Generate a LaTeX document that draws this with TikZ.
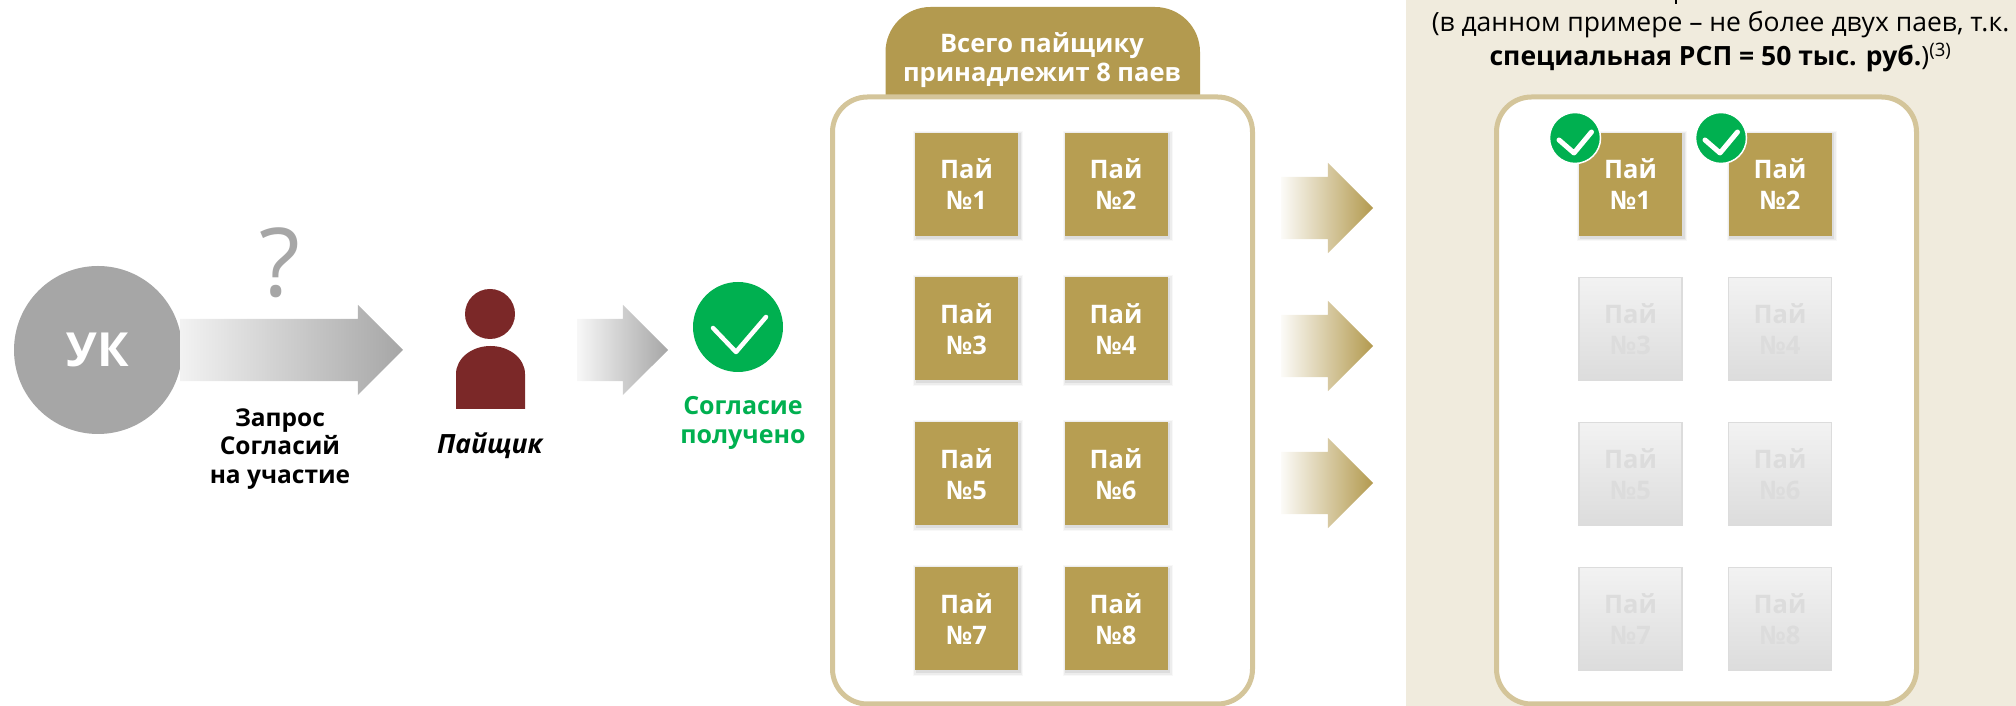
\documentclass[tikz,border=0pt]{standalone}
\usepackage{fontspec}
\setmainfont{Open Sans}
\usetikzlibrary{shapes.arrows,shadows}

\definecolor{gold}{HTML}{B79E52}
\definecolor{goldtab}{HTML}{B39A4F}
\definecolor{goldline}{HTML}{D4C59A}
\definecolor{panel}{HTML}{F0EBDD}
\definecolor{okgreen}{HTML}{00B050}
\definecolor{person}{HTML}{7B2828}
\definecolor{midgrey}{HTML}{A6A6A6}
\definecolor{offgrey}{HTML}{DCDCDC}

\begin{document}
\begin{tikzpicture}[x=1pt,y=1pt,
    blockarrow/.style={single arrow, anchor=tail, inner sep=0pt, outer sep=0pt,
        text height=62pt, text depth=0pt, text width=0pt,
        single arrow head extend=14pt, single arrow tip angle=90,
        single arrow head indent=0pt},
    greyarrow/.style={blockarrow, left color=#1, right color=midgrey},
    goldarrow/.style={blockarrow, left color=white!96!goldtab, right color=goldtab},
    frame/.style={draw=goldline, line width=5pt, fill=white, rounded corners=35pt,
        minimum width=420pt, minimum height=607pt},
    paybox/.style={minimum width=103pt, minimum height=103pt, inner sep=0pt,
        align=center, font=\fontsize{25.5}{31}\selectfont\bfseries},
    payon/.style={paybox, fill=gold, text=white,
        drop shadow={shadow xshift=1.5pt, shadow yshift=-1.5pt, opacity=.05, shadow scale=1.07},
        drop shadow={shadow xshift=1.5pt, shadow yshift=-1.5pt, opacity=.09, shadow scale=1.05},
        drop shadow={shadow xshift=1.5pt, shadow yshift=-1.5pt, opacity=.14, shadow scale=1.02}},
    payoff/.style={paybox, draw=offgrey, line width=1.5pt, text=offgrey,
        top color=black!5, middle color=black!6, bottom color=offgrey},
    okmark/.style={white, line cap=round, line join=round},
    caption/.style={align=center, font=\fontsize{24.5}{28.5}\selectfont\bfseries}]

    \useasboundingbox (0,0) rectangle (2016,706);

    % правая панель
    \fill[panel] (1406,0) rectangle (2016,706);
    \draw[line width=2pt] (1676,706) -- (1676,702);
    \node[align=center, font=\fontsize{26.5}{34}\selectfont] (note) at (1720.5,664.5)
        {(в данном примере – не более двух паев, т.к.\\
        \textbf{специальная РСП = 50 тыс. руб.})\textsuperscript{(3)}};

    % УК и запрос
    \node[circle, fill=midgrey, minimum size=168pt, inner sep=0pt, text=white,
        font=\fontsize{47}{47}\selectfont\bfseries] (uk) at (98,356) {УК};
    \node[greyarrow=black!5, minimum height=223pt] (askarrow) at (180,356) {};
    \node[text=midgrey, font=\fontsize{95}{95}\selectfont] (ask) at (280,443) {?};
    \node[caption] (asktext) at (280,257) {Запрос\\Согласий\\на участие};

    % пайщик
    \node[circle, fill=person, minimum size=50pt, inner sep=0pt] (head) at (490,392) {};
    \fill[person] (456,297) -- (456,332) arc[start angle=180, end angle=0,
        x radius=34.5, y radius=28] -- (525,297) -- cycle;
    \node[font=\fontsize{26.5}{29}\selectfont\bfseries\itshape] (holder) at (490,260) {Пайщик};

    % согласие
    \node[greyarrow=black!3, minimum height=91pt] (okarrow) at (577,356) {};
    \node[circle, fill=okgreen, minimum size=90pt, inner sep=0pt] (ok) at (738,379) {};
    \draw[okmark, line width=4.5pt] (ok.center) ++(-25,-1) -- ++(23,-24) -- ++(30,35);
    \node[caption, text=okgreen, font=\fontsize{25}{29}\selectfont\bfseries] (oktext) at (743,283) {Согласие\\получено};

    % вкладка и рамка слева
    \fill[goldtab] (885.5,611) -- (885.5,654) arc[start angle=180, end angle=90, radius=45]
        -- (1155,699) arc[start angle=90, end angle=0, radius=45] -- (1200,611) -- cycle;
    \node[text=white, align=center, font=\fontsize{25.5}{29.5}\selectfont\bfseries] (tab) at (1042,646)
        {Всего пайщику\\принадлежит 8 паев};
    \node[frame] (left) at (1042.5,305.5) {};

    % паи слева
    \foreach \n/\x/\y in {1/966.5/521.5, 2/1116/521.5, 3/966.5/377, 4/1116/377,
                          5/966.5/232, 6/1116/232, 7/966.5/87, 8/1116/87}
        \node[payon] (pay\n) at (\x,\y) {Пай\\№\n};

    % стрелки
    \foreach \n/\y in {1/498, 2/360, 3/223}
        \node[goldarrow, minimum height=92pt] (goldarrow\n) at (1281,\y) {};

    % рамка справа
    \node[frame] (right) at (1706.5,305.5) {};

    % паи справа
    \foreach \n/\x/\y in {1/1630.5/521.5, 2/1780/521.5}
        \node[payon] (rpay\n) at (\x,\y) {Пай\\№\n};
    \foreach \n/\x/\y in {3/1630.5/377, 4/1780/377, 5/1630.5/232, 6/1780/232,
                          7/1630.5/87, 8/1780/87}
        \node[payoff] (rpay\n) at (\x,\y) {Пай\\№\n};

    % галочки
    \foreach \n/\x in {1/1575, 2/1721} {
        \node[circle, fill=okgreen, draw=white, line width=1.5pt, minimum size=51pt,
            inner sep=0pt] (tick\n) at (\x,568) {};
        \draw[okmark, line width=5pt] (tick\n.center) ++(-16,-2) -- ++(15,-13) -- ++(17.5,21);
    }
\end{tikzpicture}
\end{document}
